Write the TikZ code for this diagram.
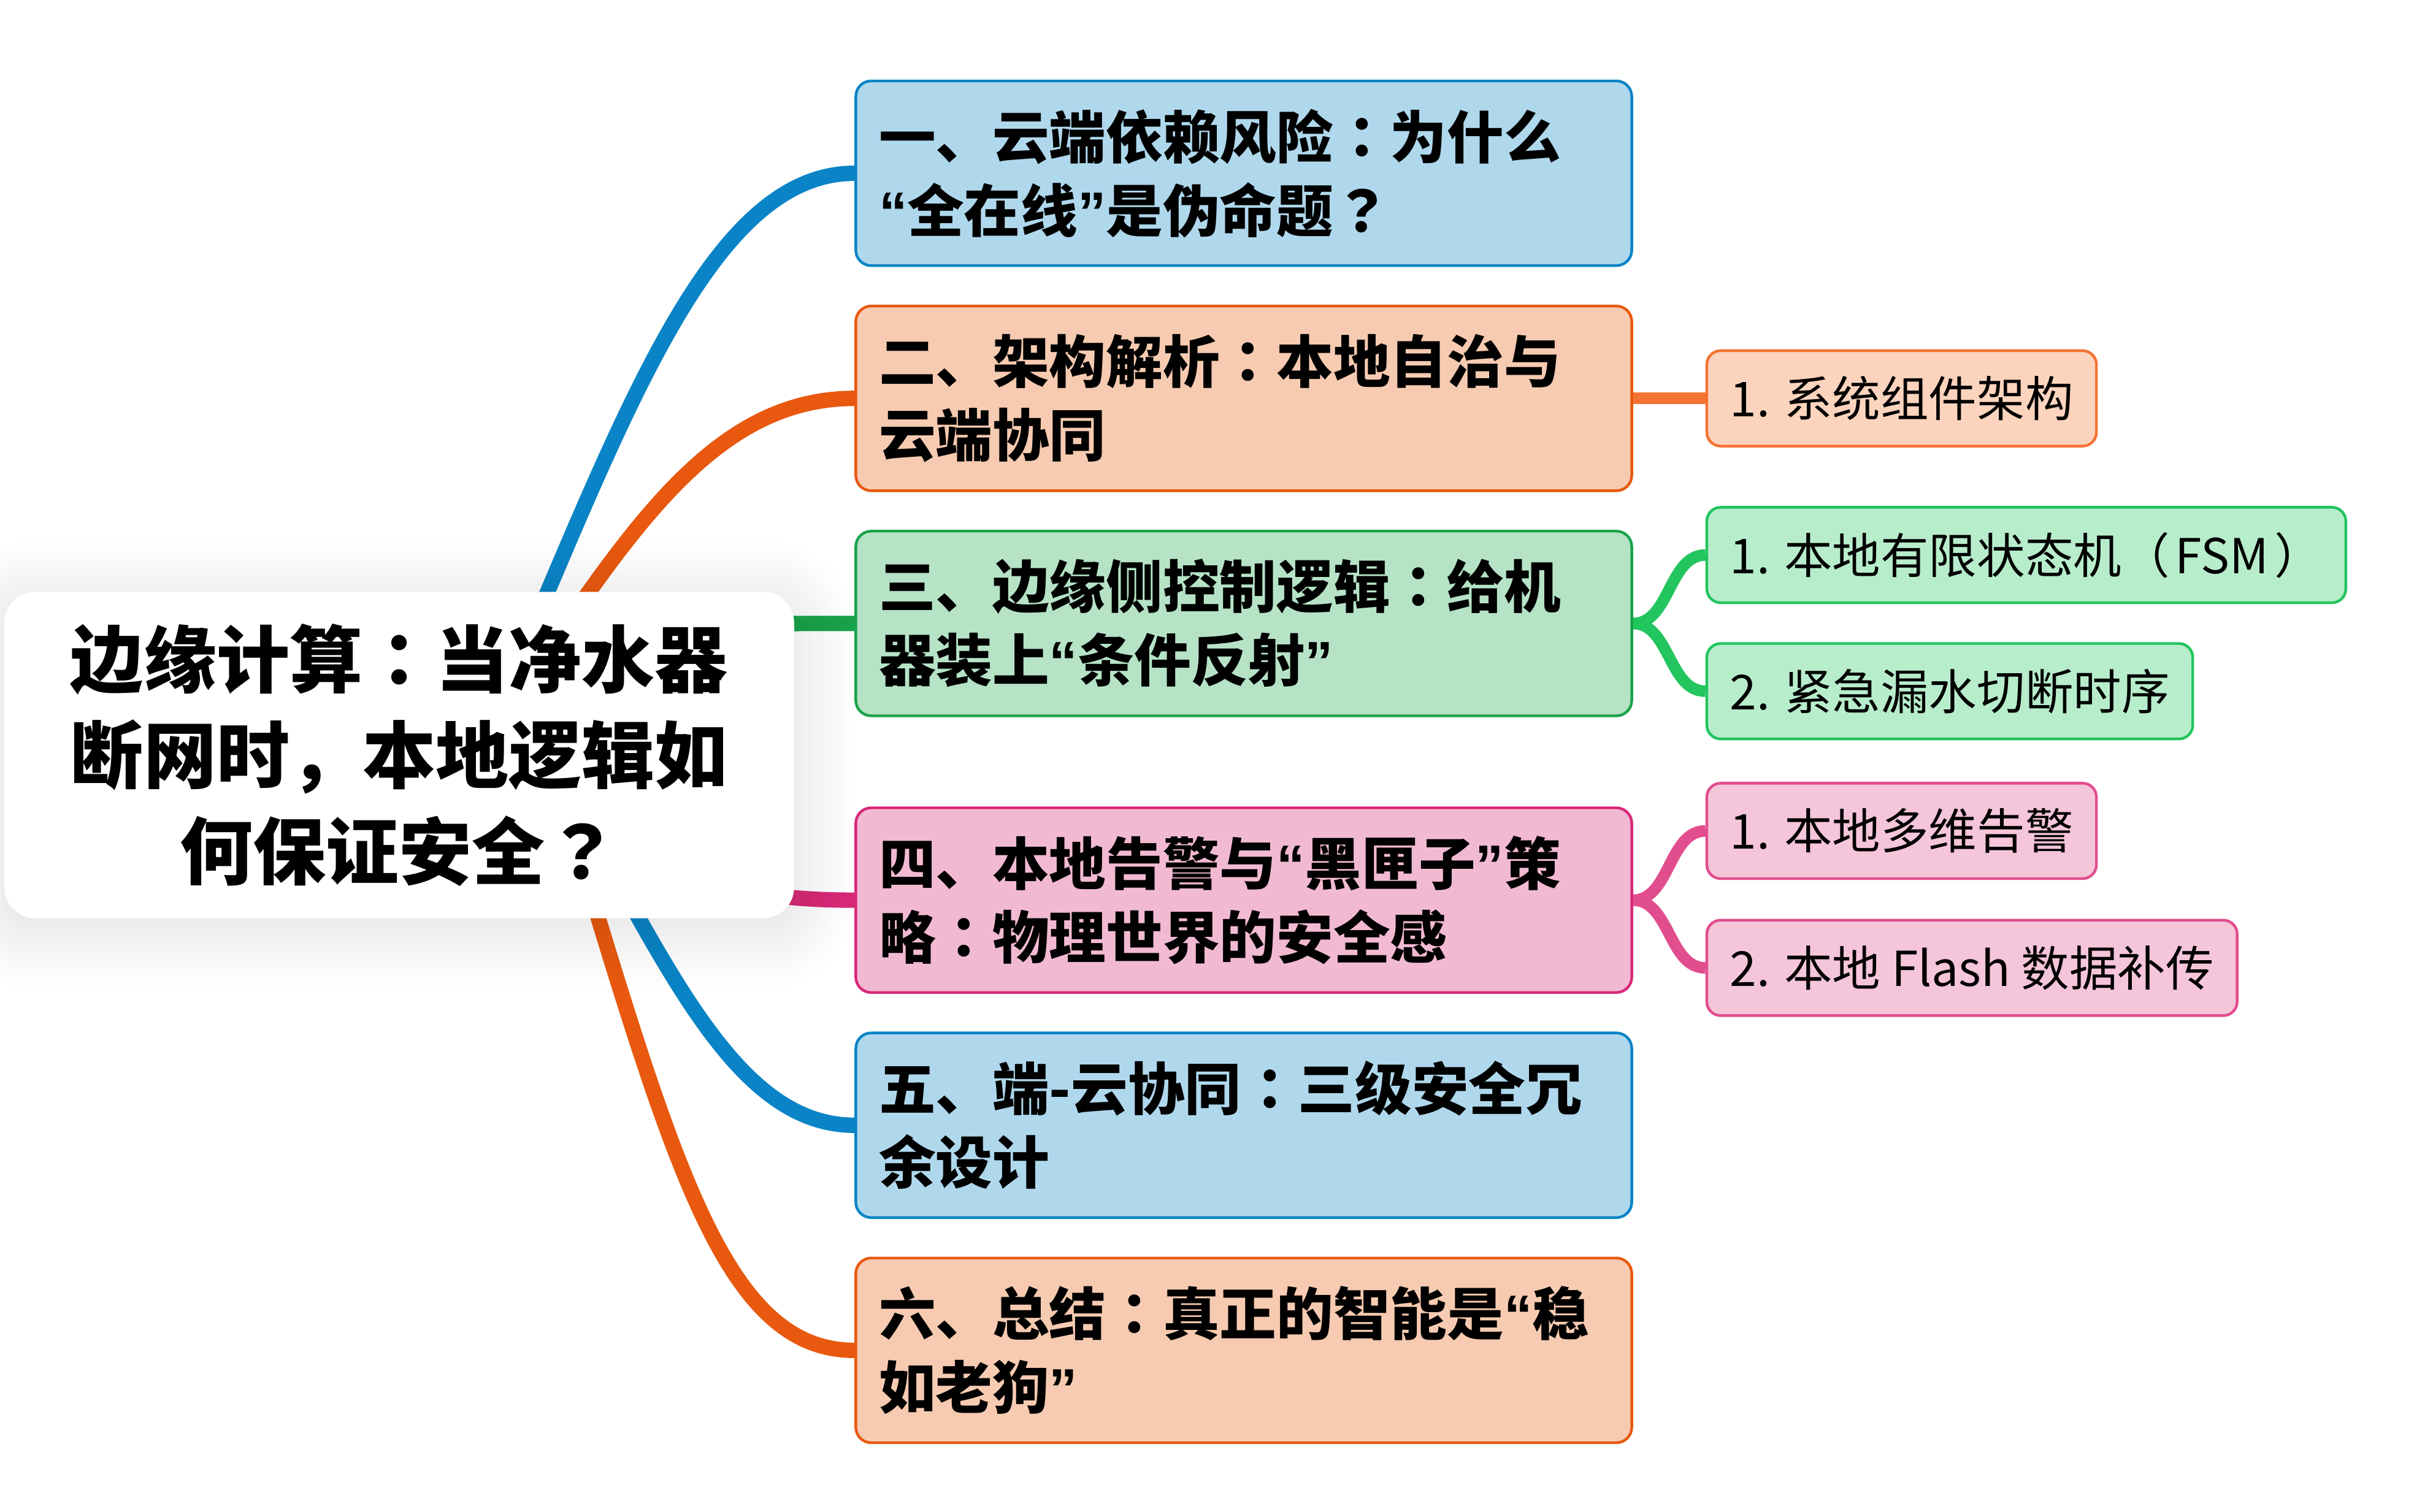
\documentclass[tikz,border=0pt]{standalone}
\usepackage{fontspec}
\setmainfont{Noto Sans CJK SC}
\newfontfamily\quotefont{Liberation Sans}
\newfontfamily\tcfont{Noto Sans CJK TC}
\usetikzlibrary{positioning,calc,shadows.blur}
\definecolor{skyline}{HTML}{0A84C6}
\definecolor{skyfill}{HTML}{AFD8EC}
\definecolor{emberline}{HTML}{E8590F}
\definecolor{emberfill}{HTML}{F7CBB1}
\definecolor{mintline}{HTML}{19A34A}
\definecolor{mintfill}{HTML}{B6E3C6}
\definecolor{roseline}{HTML}{D92978}
\definecolor{rosefill}{HTML}{F2BAD2}
\definecolor{peachline}{HTML}{F57333}
\definecolor{peachfill}{HTML}{FCD4BE}
\definecolor{leafline}{HTML}{22C55E}
\definecolor{leaffill}{HTML}{B8EDCC}
\definecolor{pinkline}{HTML}{E24D8E}
\definecolor{pinkfill}{HTML}{F5C5DA}
\pgfdeclarelayer{background}
\pgfsetlayers{background,main}
\newcommand{\oq}{{\quotefont “}}
\newcommand{\cq}{{\quotefont ”}}
\newcommand{\zh}[1]{{\tcfont #1}}

\begin{document}
\begin{tikzpicture}[
  hub/.style={fill=white, rounded corners=2mm, align=center, minimum width=5.13cm, minimum height=2.12cm, inner sep=0pt, font=\fontsize{13.5}{17.7}\selectfont\bfseries, blur shadow={shadow xshift=0pt, shadow yshift=-.6mm, shadow blur radius=4mm, shadow opacity=14, shadow blur steps=12}},
  topic/.style={rounded corners=1mm, line width=.5pt, text width=4.74cm, inner xsep=1.5mm, minimum height=1.2cm, align=left, font=\fontsize{10.5}{13.6}\selectfont\bfseries},
  topicblue/.style={topic, draw=skyline, fill=skyfill},
  topicorange/.style={topic, draw=emberline, fill=emberfill},
  topicgreen/.style={topic, draw=mintline, fill=mintfill},
  topicpink/.style={topic, draw=roseline, fill=rosefill},
  leaf/.style={rounded corners=.9mm, line width=.5pt, inner xsep=1.5mm, minimum height=.62cm, font=\fontsize{8.9}{11}\selectfont},
  leaforange/.style={leaf, draw=peachline, fill=peachfill},
  leafgreen/.style={leaf, draw=leafline, fill=leaffill},
  leafpink/.style={leaf, draw=pinkline, fill=pinkfill},
  trunk/.style={line width=1mm},
  twig/.style={line width=.75mm},
  node distance=2.45mm
]
\useasboundingbox (0,0) rectangle (15.68,9.82);

% central topic
\node[hub] (root) at (2.593,4.914) {边缘计算\zh{：}当净水器\\断网时，本地逻辑如\\何保证安全\zh{？}};

% main branches
\node[topicblue, anchor=west] (t1) at (5.55,8.694) {一、云端依赖风险\zh{：}为什么\\\oq 全在线\cq 是伪命题\zh{？}};
\node[topicorange, below=of t1] (t2) {二、架构解析\zh{：}本地自治与\\云端协同};
\node[topicgreen, below=of t2] (t3) {三、边缘侧控制逻辑\zh{：}给机\\器装上\oq 条件反射\cq};
\node[topicpink, below=5.8mm of t3] (t4) {四、本地告警与\oq 黑匣子\cq 策\\略\zh{：}物理世界的安全感};
\node[topicblue, below=of t4] (t5) {五、端-云协同\zh{：}三级安全冗\\余设计};
\node[topicorange, below=of t5] (t6) {六、总结\zh{：}真正的智能是\oq 稳\\如老狗\cq};

% sub topics
\node[leaforange, right=4.7mm of t2.east] (s21) {1. 系统组件架构};
\node[leafgreen, right=4.7mm of t3.east, yshift=4.45mm] (s31) {1. 本地有限状态机（\hspace{.12em}FSM\hspace{.12em}）};
\node[leafgreen, right=4.7mm of t3.east, yshift=-4.4mm] (s32) {2. 紧急漏水切断时序};
\node[leafpink, right=4.7mm of t4.east, yshift=4.5mm] (s41) {1. 本地多维告警};
\node[leafpink, right=4.7mm of t4.east, yshift=-4.4mm] (s42) {2. 本地 Flash 数据补传};

% branch curves
\begin{pgfonlayer}{background}
\coordinate (hubup) at ($(root.center)+(.51,0)$);
\coordinate (hubdown) at ($(root.center)+(.97,0)$);
\draw[trunk, draw=skyline] (hubup) .. controls +(.88,2.0) and +(-1.0,0) .. (t1.west);
\draw[trunk, draw=emberline] (hubup) .. controls +(.89,1.3) and +(-1.0,0) .. (t2.west);
\draw[trunk, draw=mintline] (hubup) .. controls +(.9,.89) and +(-1.0,0) .. (t3.west);
\draw[trunk, draw=roseline] (hubdown) .. controls +(.5,-.86) and +(-.6,0) .. (t4.west);
\draw[trunk, draw=skyline] (hubdown) .. controls +(.74,-1.3) and +(-.8,0) .. (t5.west);
\draw[trunk, draw=emberline] (hubdown) .. controls +(.77,-2.5) and +(-.9,0) .. (t6.west);

\draw[twig, draw=peachline] (t2.east) -- (s21.west);
\draw[twig, draw=leafline] (t3.east) .. controls +(.24,0) and +(-.24,0) .. (s31.west);
\draw[twig, draw=leafline] (t3.east) .. controls +(.24,0) and +(-.24,0) .. (s32.west);
\draw[twig, draw=pinkline] (t4.east) .. controls +(.24,0) and +(-.24,0) .. (s41.west);
\draw[twig, draw=pinkline] (t4.east) .. controls +(.24,0) and +(-.24,0) .. (s42.west);
\end{pgfonlayer}
\end{tikzpicture}
\end{document}
